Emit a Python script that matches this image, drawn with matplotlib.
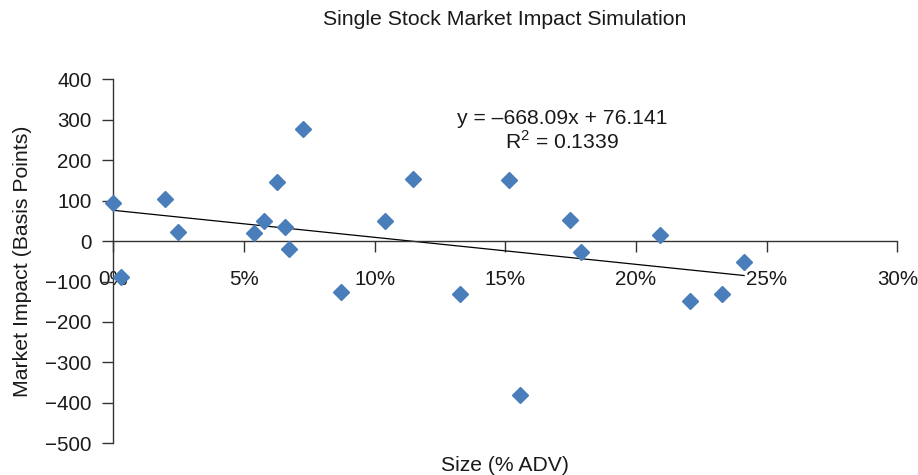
import numpy as np
import matplotlib; matplotlib.use("Agg")
import matplotlib.pyplot as plt
from matplotlib.ticker import PercentFormatter, MultipleLocator

plt.rcParams['font.family'] = ['Liberation Sans', 'DejaVu Sans']
plt.rcParams['mathtext.fontset'] = 'custom'
plt.rcParams['mathtext.rm'] = 'Liberation Sans'

# trade size as fraction of ADV, impact in basis points
size_adv = [0.0000, 0.0028, 0.0199, 0.0249, 0.0537, 0.0576, 0.0628, 0.0658,
            0.0671, 0.0725, 0.0871, 0.1039, 0.1146, 0.1327, 0.1514, 0.1555,
            0.1747, 0.1790, 0.2091, 0.2207, 0.2328, 0.2414]
impact_bp = [93, -90, 103, 22, 19, 50, 147, 34,
             -19, 276, -125, 50, 154, -132, 150, -381,
             52, -26, 16, -149, -132, -52]
slope, intercept = -668.09, 76.141
r2 = 0.1339

TXT = "#1a1a1a"
fig = plt.figure(figsize=(9.18, 4.75), dpi=100)
ax = fig.add_axes([0.1234, 0.0667, 0.854, 0.7663])

ax.plot(size_adv, impact_bp, "D", color="#4a7ebb", mec="#4a7ebb", ms=8.6,
        zorder=3, clip_on=False)
xs = np.array([min(size_adv), max(size_adv)])
ax.plot(xs, slope * xs + intercept, "-", color="black", lw=0.9, zorder=2)

ax.set_xlim(0, 0.30); ax.set_ylim(-500, 400)
ax.xaxis.set_major_locator(MultipleLocator(0.05))
ax.xaxis.set_major_formatter(PercentFormatter(xmax=1, decimals=0))
ax.yaxis.set_major_locator(MultipleLocator(100))

for s in ("top", "right"):
    ax.spines[s].set_visible(False)
ax.spines["bottom"].set_position(("data", 0))
ax.spines["left"].set_position(("data", 0))
for s in ("bottom", "left"):
    ax.spines[s].set_color("#333333"); ax.spines[s].set_linewidth(1.0)

ax.tick_params(axis="x", direction="out", length=8, width=1, color="#333333",
               pad=13, labelsize=14.8, labelcolor=TXT)
ax.tick_params(axis="y", direction="out", length=8, width=1, color="#333333",
               pad=7.5, labelsize=14.8, labelcolor=TXT)

ax.text(0.1716, 304, "y = \u2013668.09x + 76.141", ha="center", va="center",
        fontsize=15.2, color=TXT)
ax.text(0.1716, 246, "R$^2$ = %.4f" % r2, ha="center", va="center",
        fontsize=15.2, color=TXT)

fig.text(0.550, 0.958, "Single Stock Market Impact Simulation", ha="center",
         va="center", fontsize=15.3, color=TXT)
fig.text(0.550, 0.021, "Size (% ADV)", ha="center", va="center", fontsize=15.2,
         color=TXT)
fig.text(0.024, 0.4495, "Market Impact (Basis Points)", ha="center", va="center",
         rotation=90, fontsize=15.3, color=TXT)

fig.savefig("out.png", dpi=100)
